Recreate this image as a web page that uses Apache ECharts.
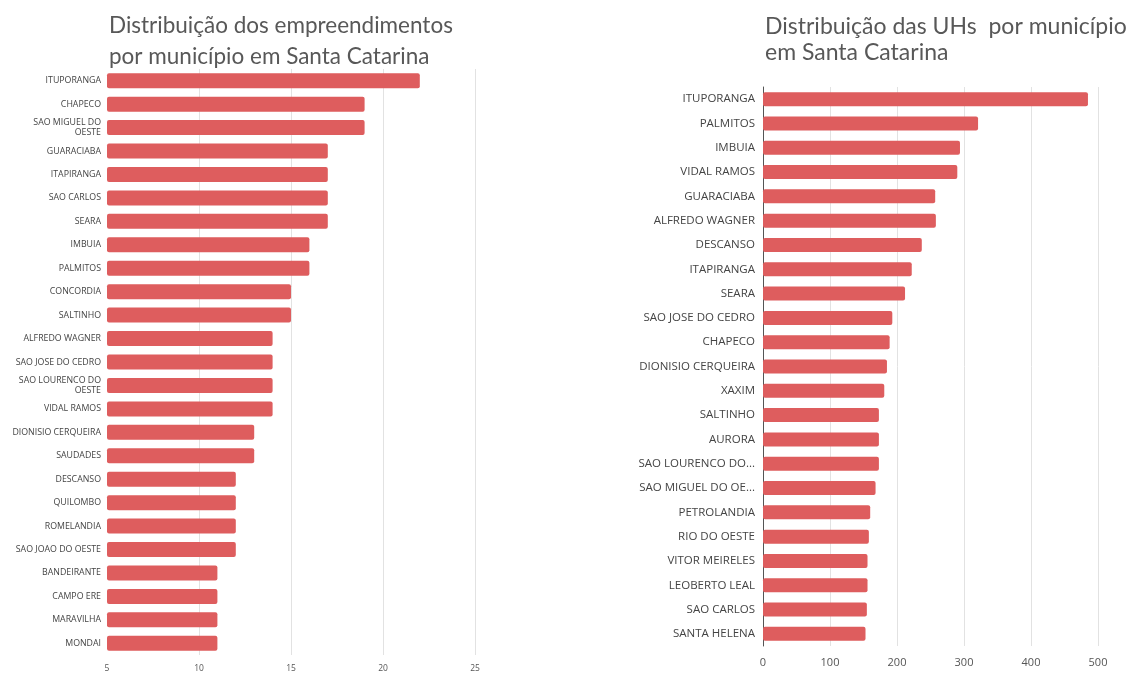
<!DOCTYPE html>
<html>
<head>
<meta charset="utf-8">
<script src="https://cdn.jsdelivr.net/npm/echarts@6/dist/echarts.min.js"></script>
<style>
  html, body { margin: 0; padding: 0; background: #fff; }
  #main { width: 1126px; height: 673px; }
</style>
</head>
<body>
<div id="main"></div>
<script>
// empreendimentos por municipio
var leftCities = ['ITUPORANGA', 'CHAPECO', 'SAO MIGUEL DO OESTE', 'GUARACIABA', 'ITAPIRANGA',
  'SAO CARLOS', 'SEARA', 'IMBUIA', 'PALMITOS', 'CONCORDIA', 'SALTINHO', 'ALFREDO WAGNER',
  'SAO JOSE DO CEDRO', 'SAO LOURENCO DO OESTE', 'VIDAL RAMOS', 'DIONISIO CERQUEIRA', 'SAUDADES',
  'DESCANSO', 'QUILOMBO', 'ROMELANDIA', 'SAO JOAO DO OESTE', 'BANDEIRANTE', 'CAMPO ERE',
  'MARAVILHA', 'MONDAI']
var leftValues = [22, 19, 19, 17, 17, 17, 17, 16, 16, 15, 15, 14, 14, 14, 14, 13, 13, 12, 12, 12, 12, 11, 11, 11, 11]

// UHs por municipio
var rightCities = ['ITUPORANGA', 'PALMITOS', 'IMBUIA', 'VIDAL RAMOS', 'GUARACIABA', 'ALFREDO WAGNER',
  'DESCANSO', 'ITAPIRANGA', 'SEARA', 'SAO JOSE DO CEDRO', 'CHAPECO', 'DIONISIO CERQUEIRA', 'XAXIM',
  'SALTINHO', 'AURORA', 'SAO LOURENCO DO OESTE', 'SAO MIGUEL DO OESTE', 'PETROLANDIA', 'RIO DO OESTE',
  'VITOR MEIRELES', 'LEOBERTO LEAL', 'SAO CARLOS', 'SANTA HELENA']
var rightValues = [485, 321, 294, 290, 257, 258, 237, 222, 212, 193, 189, 185, 181, 173, 173, 173, 168,
  160, 158, 156, 156, 155, 153]

var barColor = '#de5d5e'
var myChart = echarts.init(document.getElementById('main'))

var option = {
  animation: false,
  title: [
    {
      text: 'Distribuição dos empreendimentos\npor município em Santa Catarina',
      left: 104, top: 5,
      textStyle: { fontFamily: 'Lato', fontSize: 22.5, fontWeight: 'normal', color: '#585858', lineHeight: 31 }
    },
    {
      text: 'Distribuição das UHs  por município\nem Santa Catarina',
      left: 760, top: 9,
      textStyle: { fontFamily: 'Lato', fontSize: 23, fontWeight: 'normal', color: '#585858', lineHeight: 26 }
    }
  ],
  grid: [
    { left: 107, width: 368, top: 69, height: 586 },
    { left: 763, width: 335, top: 87, height: 559 }
  ],
  xAxis: [
    {
      gridIndex: 0, type: 'value', min: 5, max: 25, interval: 5,
      axisLine: { show: false }, axisTick: { show: false },
      axisLabel: { fontFamily: 'Open Sans', fontSize: 8.5, color: '#555', margin: 9 },
      splitLine: { showMinLine: false, lineStyle: { color: '#e2e2e2' } }
    },
    {
      gridIndex: 1, type: 'value', min: 0, max: 500, interval: 100,
      axisLine: { show: false }, axisTick: { show: false },
      axisLabel: { fontFamily: 'Open Sans', fontSize: 11, color: '#555', margin: 11 },
      splitLine: { showMinLine: false, lineStyle: { color: '#e2e2e2' } }
    }
  ],
  yAxis: [
    {
      gridIndex: 0, type: 'category', data: leftCities, inverse: true,
      axisLine: { show: false }, axisTick: { show: false },
      axisLabel: {
        fontFamily: 'Open Sans', fontSize: 8.8, color: '#444', margin: 6, lineHeight: 10,
        formatter: function (v) {
          if (v.length > 18) {
            var i = v.lastIndexOf(' ')
            return v.slice(0, i) + '\n' + v.slice(i + 1)
          }
          return v
        }
      }
    },
    {
      gridIndex: 1, type: 'category', data: rightCities, inverse: true,
      axisLine: { show: true, lineStyle: { color: '#555' } }, axisTick: { show: false },
      axisLabel: {
        fontFamily: 'Open Sans', fontSize: 11.5, color: '#444', margin: 8,
        width: 118, overflow: 'truncate', ellipsis: '...'
      }
    }
  ],
  series: [
    {
      type: 'bar', xAxisIndex: 0, yAxisIndex: 0, data: leftValues,
      barWidth: 15, itemStyle: { color: barColor, borderRadius: 2 }
    },
    {
      type: 'bar', xAxisIndex: 1, yAxisIndex: 1, data: rightValues,
      barWidth: 14, itemStyle: { color: barColor, borderRadius: 2 }
    }
  ]
}
myChart.setOption(option)
</script>
</body>
</html>
